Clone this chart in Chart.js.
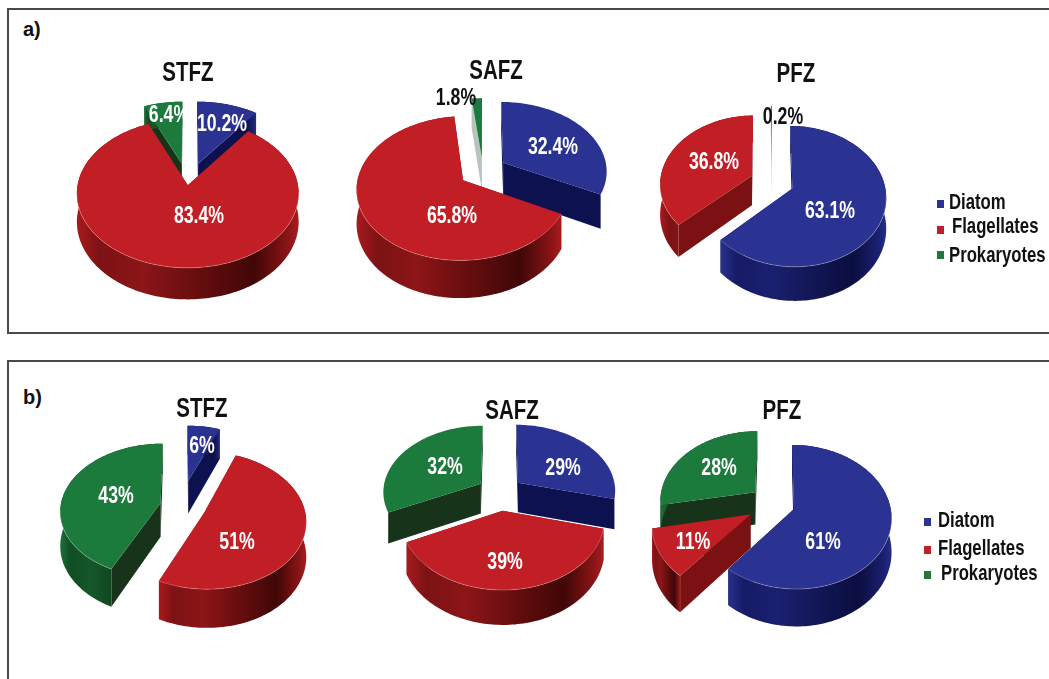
<!DOCTYPE html>
<html>
<head>
<meta charset="utf-8">
<title>Phytoplankton groups by frontal zone</title>
<script src="https://cdn.jsdelivr.net/npm/chart.js@4/dist/chart.umd.min.js"></script>
<style>
    html, body { margin: 0; padding: 0; background: #fff; width: 1049px; height: 679px; overflow: hidden; }
    body { position: relative; font-family: "Liberation Sans", sans-serif; font-weight: bold; color: #111; }
    .panel { position: absolute; left: 7px; width: 1060px; border: 2px solid #4a4a4a; box-sizing: border-box; }
    .tag { position: absolute; font-size: 20px; transform: translateY(-50%); }
    .zone { position: absolute; font-size: 27px; transform: translate(-50%, -50%) scaleX(0.76); z-index: 2; }
    .key { position: absolute; font-size: 22px; transform-origin: left center; transform: translateY(-50%) scaleX(0.76); z-index: 2; white-space: nowrap; }
    .swatch { position: absolute; width: 7px; height: 8px; z-index: 2; }
    canvas { position: absolute; }
</style>
</head>
<body>
<div class="panel" style="top: 8px; height: 326px;"></div>
<div class="panel" style="top: 360px; height: 340px;"></div>
<div class="tag" style="left: 23px; top: 29px;">a)</div>
<div class="tag" style="left: 23px; top: 397px;">b)</div>

<script>
const categories = ['Diatom', 'Flagellates', 'Prokaryotes'];
const zones = ['STFZ', 'SAFZ', 'PFZ'];

// percentages, same order as categories
const aStfz = [10.2, 83.4, 6.4];
const aSafz = [32.4, 65.8, 1.8];
const aPfz = [63.1, 36.8, 0.2];
const bStfz = [6, 51, 43];
const bSafz = [29, 39, 32];
const bPfz = [61, 11, 28];

const CANVAS_SIZE = 340;
const PERSPECTIVE = 0.11;
const THIN_SLICE = 2;
const THIN_CUT = '#b7c4bb';

// top face, radial cut face, rim colour stops (left to right)
const palette = [
    { top: '#2a3292', cut: '#0d1150', rim: ['#28308c', '#161b66', '#1a2070', '#10144f', '#0b0e40', '#1a2070', '#262d86'] },
    { top: '#c21e25', cut: '#7c1113', rim: ['#a81a1e', '#7d1214', '#8c1517', '#5c0b0c', '#400707', '#8a1416', '#aa1b1f'] },
    { top: '#1d7a3d', cut: '#17341b', rim: ['#1d7038', '#114d25', '#14582a', '#0e3d1c', '#0b2f15', '#135228', '#1b6c35'] }
];
const rimStops = [0, 0.1, 0.3, 0.62, 0.8, 0.95, 1];

// centre and radius of each pie, pull-out of each slice, depth, text positions on the page
const pies = [
    { zone: 0, values: aStfz, cx: 188, cy: 184, radius: 110, tilt: 0.665, depth: 28, offsets: [33, 2, 32], noWall: [],
      titleAt: [188, 72], labelsAt: [[222, 125], [199, 217], [169, 116]] },
    { zone: 1, values: aSafz, cx: 483, cy: 171, radius: 104, tilt: 0.665, depth: 33, offsets: [24, 24, 20], noWall: [0],
      titleAt: [496, 70], labelsAt: [[553, 148], [452, 217], [456, 99]], darkLabel: 2 },
    { zone: 2, values: aPfz, cx: 772, cy: 182, radius: 92, tilt: 0.74, depth: 30, offsets: [22, 22, 25], noWall: [],
      titleAt: [796, 73], labelsAt: [[830, 212], [714, 163], [783, 118]], darkLabel: 2 },
    { zone: 0, values: bStfz, cx: 181, cy: 506, radius: 100, tilt: 0.665, depth: 34, offsets: [40, 25, 21], noWall: [],
      titleAt: [202, 408], labelsAt: [[202, 447], [237, 543], [116, 497]] },
    { zone: 1, values: bSafz, cx: 500, cy: 492, radius: 98, tilt: 0.675, depth: 30, offsets: [23, 27, 23], noWall: [0, 2],
      titleAt: [512, 410], labelsAt: [[563, 469], [505, 563], [445, 468]] },
    { zone: 2, values: bPfz, cx: 775, cy: 504, radius: 96, tilt: 0.73, depth: 33, offsets: [20, 28, 26], noWall: [],
      titleAt: [782, 410], labelsAt: [[823, 543], [693, 543], [719, 469]] }
];

const legends = [
    { swatchX: 937, rows: [[949, 202, 204], [952, 226, 230], [949, 255, 255]] },
    { swatchX: 924, rows: [[938, 520, 522], [938, 548, 550], [941, 573, 575]] }
];

// Projects a point on the pie plane to canvas pixels, far side a bit smaller
function project(arc, opts, flatX, flatY, drop) {
    const f = 1 / (1 - PERSPECTIVE * flatY / opts.radius);
    return {
        x: arc.x + flatX * f,
        y: arc.y + opts.tilt * flatY * f + drop * f
    };
}

function tracePath(ctx, pts) {
    ctx.beginPath();
    pts.forEach((p, i) => i ? ctx.lineTo(p.x, p.y) : ctx.moveTo(p.x, p.y));
    ctx.closePath();
}

function drawSlice(ctx, arc, colors, opts, thin, wall) {
    const start = arc.startAngle;
    const end = arc.endAngle;
    const mid = (start + end) / 2;
    const ox = Math.cos(mid) * arc.options.offset;
    const oy = Math.sin(mid) * arc.options.offset;
    const r = arc.outerRadius;
    const depth = opts.depth;
    const steps = Math.max(2, Math.ceil((end - start) * 40));

    const rimPoint = (a, drop) => project(arc, opts, ox + r * Math.cos(a), oy + r * Math.sin(a), drop);
    const apex = drop => project(arc, opts, ox, oy, drop);

    const topRim = [];
    const lowRim = [];
    for (let i = 0; i <= steps; i++) {
        const a = start + (end - start) * i / steps;
        topRim.push(rimPoint(a, 0));
        lowRim.push(rimPoint(a, depth));
    }

    // radial cut faces
    ctx.fillStyle = thin ? THIN_CUT : colors.cut;
    tracePath(ctx, [apex(0), topRim[0], lowRim[0], apex(depth)]);
    ctx.fill();
    tracePath(ctx, [apex(0), topRim[steps], lowRim[steps], apex(depth)]);
    ctx.fill();

    // outer wall
    if (wall && !thin) {
        const xs = topRim.map(p => p.x);
        const grad = ctx.createLinearGradient(Math.min(...xs), 0, Math.max(...xs), 0);
        colors.rim.forEach((c, i) => grad.addColorStop(rimStops[i], c));
        ctx.fillStyle = grad;
        tracePath(ctx, topRim.concat(lowRim.slice().reverse()));
        ctx.fill();
    }

    // top face
    ctx.fillStyle = colors.top;
    tracePath(ctx, [apex(0)].concat(topRim));
    ctx.fill();

    // pale highlight where the top meets the front wall
    if (wall && !thin) {
        ctx.strokeStyle = 'rgba(255,235,225,0.28)';
        ctx.lineWidth = 1;
        ctx.beginPath();
        for (let i = 0; i <= steps; i++) {
            const a = start + (end - start) * i / steps;
            if (Math.sin(a) > 0.1) {
                ctx.lineTo(topRim[i].x, topRim[i].y);
            } else {
                ctx.moveTo(topRim[i].x, topRim[i].y);
            }
        }
        ctx.stroke();
    }
}

// Takes over the arc painting: the elements keep the angles and offsets
// worked out by the doughnut controller, this only gives them thickness.
const extrudedPie = {
    id: 'extrudedPie',
    beforeDatasetDraw(chart, args, opts) {
        const ctx = chart.ctx;
        const values = chart.data.datasets[args.index].data;
        const order = chart.getDatasetMeta(args.index).data
            .map((arc, i) => ({ arc, i }))
            .sort((p, q) => {
                const y = e => Math.sin((e.arc.startAngle + e.arc.endAngle) / 2) * e.arc.options.offset;
                return y(p) - y(q);
            });
        order.forEach(({ arc, i }) => {
            drawSlice(ctx, arc, palette[i], opts, values[i] < THIN_SLICE, !opts.noWall.includes(i));
        });
        return false;
    },
    afterDatasetsDraw(chart, args, opts) {
        const ctx = chart.ctx;
        chart.data.datasets[0].data.forEach((v, i) => {
            ctx.save();
            ctx.font = 'bold 23px "Liberation Sans", sans-serif';
            ctx.textAlign = 'center';
            ctx.textBaseline = 'middle';
            ctx.fillStyle = opts.darkLabel === i ? '#111' : '#fff';
            ctx.translate(opts.labelsAt[i][0] - opts.left, opts.labelsAt[i][1] - opts.top);
            ctx.scale(0.77, 1);
            ctx.fillText(v + '%', 0, 0);
            ctx.restore();
        });
    }
};

pies.forEach(p => {
    const canvas = document.createElement('canvas');
    const left = p.cx - CANVAS_SIZE / 2;
    const top = p.cy - CANVAS_SIZE / 2;
    canvas.width = CANVAS_SIZE;
    canvas.height = CANVAS_SIZE;
    canvas.style.left = left + 'px';
    canvas.style.top = top + 'px';
    canvas.style.width = CANVAS_SIZE + 'px';
    canvas.style.height = CANVAS_SIZE + 'px';
    document.body.appendChild(canvas);

    new Chart(canvas, {
        type: 'pie',
        data: {
            labels: categories,
            datasets: [{
                data: p.values,
                backgroundColor: palette.map(c => c.top),
                borderWidth: 0,
                offset: p.offsets
            }]
        },
        options: {
            responsive: false,
            animation: false,
            radius: p.radius,
            plugins: {
                legend: { display: false },
                tooltip: { enabled: false },
                extrudedPie: {
                    radius: p.radius,
                    tilt: p.tilt,
                    depth: p.depth,
                    noWall: p.noWall,
                    labelsAt: p.labelsAt,
                    darkLabel: p.darkLabel,
                    left,
                    top
                }
            }
        },
        plugins: [extrudedPie]
    });

    const title = document.createElement('div');
    title.className = 'zone';
    title.textContent = zones[p.zone];
    title.style.left = p.titleAt[0] + 'px';
    title.style.top = p.titleAt[1] + 'px';
    document.body.appendChild(title);
});

legends.forEach(lg => {
    lg.rows.forEach((row, i) => {
        const swatch = document.createElement('div');
        swatch.className = 'swatch';
        swatch.style.left = lg.swatchX + 'px';
        swatch.style.top = (row[2] - 4) + 'px';
        swatch.style.background = palette[i].top;
        document.body.appendChild(swatch);

        const key = document.createElement('div');
        key.className = 'key';
        key.textContent = categories[i];
        key.style.left = row[0] + 'px';
        key.style.top = row[1] + 'px';
        document.body.appendChild(key);
    });
});
</script>
</body>
</html>
